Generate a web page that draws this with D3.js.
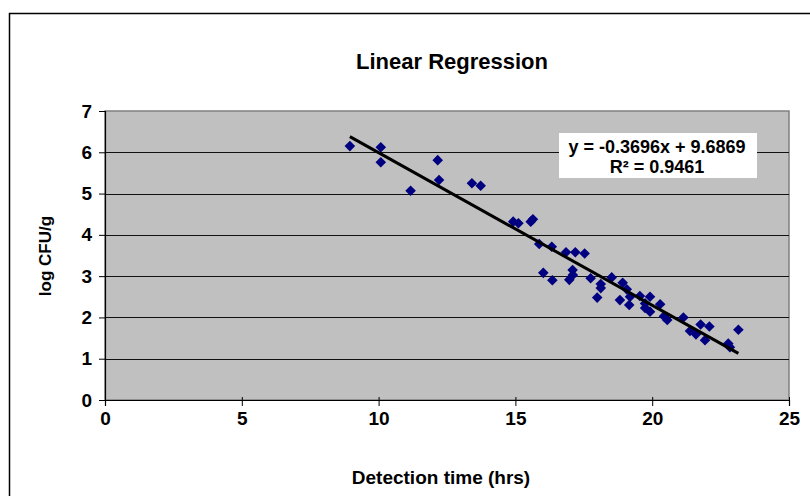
<!DOCTYPE html>
<html lang="en">
<head>
<meta charset="UTF-8">
<title>Linear Regression</title>
<script src="https://cdn.jsdelivr.net/npm/d3@7"></script>
<style>
  body { margin: 0; background: #fff; }
  text { font-family: "Liberation Sans", Arial, sans-serif; font-weight: bold; fill: #000; }
</style>
</head>
<body>
<svg width="810" height="496"></svg>
<script>
// detection time (hrs) vs log CFU/g
const detectionTime = [8.95, 10.08, 10.08, 11.17, 12.16, 12.21, 13.41, 13.73,
  14.92, 15.11, 15.56, 15.64, 15.87, 16.33, 16.85, 17.19, 17.53,
  16.02, 16.35, 17.09, 17.1, 16.97, 17.75, 18.12, 18.12, 17.99,
  18.52, 18.92, 19.07, 18.82, 19.19, 19.16, 19.55, 19.92, 19.74,
  19.92, 19.74, 20.29, 20.55, 20.43, 21.14, 21.38, 21.6, 21.77,
  22.09, 21.93, 22.78, 22.84, 23.15];
const logCFU = [6.15, 6.12, 5.76, 5.07, 5.81, 5.33, 5.25, 5.19,
  4.32, 4.28, 4.32, 4.38, 3.78, 3.71, 3.58, 3.58, 3.55,
  3.08, 2.90, 3.15, 3.03, 2.91, 2.95, 2.81, 2.71, 2.48,
  2.97, 2.84, 2.68, 2.42, 2.50, 2.30, 2.52, 2.50, 2.34,
  2.14, 2.23, 2.32, 1.94, 2.03, 2.00, 1.67, 1.59, 1.83,
  1.78, 1.45, 1.37, 1.28, 1.70];
const xTicks = [0, 5, 10, 15, 20, 25];
const yTicks = [0, 1, 2, 3, 4, 5, 6, 7];
const slope = -0.3696, intercept = 9.6869, rSquared = 0.9461;

const svg = d3.select("svg");
const pLeft = 105, pRight = 789, pTop = 111, pBottom = 400;

// outer chart frame (runs off the right/bottom edge)
svg.append("path")
  .attr("d", "M9.5,496 V13.5 H810")
  .attr("fill", "none").attr("stroke", "#000").attr("stroke-width", 1.5);

const x = d3.scaleLinear().domain([0, 25]).range([pLeft, pRight]);
const y = d3.scaleLinear().domain([0, 7]).range([pBottom, pTop]);

// plot area
svg.append("rect")
  .attr("x", pLeft).attr("y", pTop)
  .attr("width", pRight - pLeft).attr("height", pBottom - pTop)
  .attr("fill", "#c0c0c0").attr("stroke", "#808080").attr("stroke-width", 1.5);

// gridlines
svg.append("g").selectAll("line")
  .data(yTicks.slice(1, -1))
  .join("line")
  .attr("x1", pLeft).attr("x2", pRight)
  .attr("y1", d => Math.round(y(d)) + 0.5).attr("y2", d => Math.round(y(d)) + 0.5)
  .attr("stroke", "#111").attr("stroke-width", 1.2);

// axes
const yAxis = svg.append("g")
  .attr("transform", `translate(${pLeft},0)`)
  .call(d3.axisLeft(y).tickValues(yTicks).tickSize(6).tickPadding(7).tickFormat(d3.format("d")));
const xAxis = svg.append("g")
  .attr("transform", `translate(0,${pBottom})`)
  .call(d3.axisBottom(x).tickValues(xTicks).tickSize(6).tickPadding(6).tickFormat(d3.format("d")));
[xAxis, yAxis].forEach(a => {
  a.select(".domain").attr("stroke", "#000").attr("stroke-width", 1.2);
  a.selectAll(".tick line").attr("stroke", "#000");
  a.selectAll("text").style("font-size", "19px").style("font-family", "'Liberation Sans', Arial, sans-serif").style("font-weight", "bold");
});
xAxis.selectAll(".tick line").attr("y1", -3);

// data points
const pts = detectionTime.map((t, i) => ({ t, v: logCFU[i] }));
svg.append("g").selectAll("path")
  .data(pts)
  .join("path")
  .attr("d", d3.symbol(d3.symbolSquare, 56))
  .attr("transform", d => `translate(${x(d.t)},${y(d.v)}) rotate(45)`)
  .attr("fill", "#000080");

// trendline
const xr = d3.extent(detectionTime);
svg.append("line")
  .attr("x1", x(xr[0])).attr("y1", y(slope * xr[0] + intercept))
  .attr("x2", x(xr[1])).attr("y2", y(slope * xr[1] + intercept))
  .attr("stroke", "#000").attr("stroke-width", 3);

// equation label
svg.append("rect")
  .attr("x", 559).attr("y", 133).attr("width", 198).attr("height", 45)
  .attr("fill", "#fff");
svg.append("text")
  .attr("x", 657).attr("y", 153).attr("text-anchor", "middle")
  .style("font-size", "18px")
  .text(`y = ${slope}x + ${intercept}`);
svg.append("text")
  .attr("x", 657).attr("y", 173).attr("text-anchor", "middle")
  .style("font-size", "18px")
  .text(`R² = ${rSquared}`);

// titles
svg.append("text")
  .attr("x", 452).attr("y", 69).attr("text-anchor", "middle")
  .style("font-size", "22px")
  .text("Linear Regression");
svg.append("text")
  .attr("x", 441).attr("y", 484).attr("text-anchor", "middle")
  .style("font-size", "19px")
  .text("Detection time (hrs)");
svg.append("text")
  .attr("transform", "translate(51,256) rotate(-90)")
  .attr("text-anchor", "middle")
  .style("font-size", "17px")
  .text("log CFU/g");
</script>
</body>
</html>
